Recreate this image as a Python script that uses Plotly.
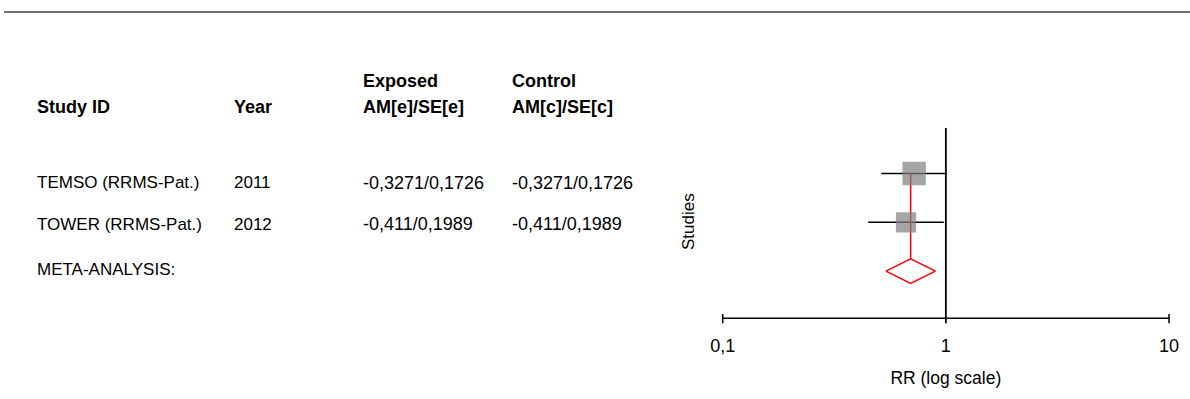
import math
import plotly.graph_objects as go

# Study table
study_ids = ["TEMSO (RRMS-Pat.)", "TOWER (RRMS-Pat.)"]
years = [2011, 2012]
am_e = [-0.3271, -0.411]
se_e = [0.1726, 0.1989]
am_c = [-0.3271, -0.411]
se_c = [0.1726, 0.1989]
meta_label = "META-ANALYSIS:"

# x-axis ticks
tick_vals = [0.1, 1, 10]
tick_text = ["0,1", "1", "10"]

W, H = 1190, 399
FONT = "Liberation Sans"
Z = 1.959964


def fmt(v):
    return str(v).replace(".", ",")


def py(p):
    """pixel row -> paper y"""
    return (H - p) / H


def px(p):
    """pixel column -> paper x"""
    return p / W


# effect sizes and 95% CIs on the RR scale
rr = [math.exp(a) for a in am_e]
lo = [math.exp(a - Z * s) for a, s in zip(am_e, se_e)]
hi = [math.exp(a + Z * s) for a, s in zip(am_e, se_e)]

# fixed-effect (inverse variance) pooling
w = [1 / s ** 2 for s in se_e]
pooled = sum(wi * a for wi, a in zip(w, am_e)) / sum(w)
pooled_se = 1 / math.sqrt(sum(w))
p_rr = math.exp(pooled)
p_lo = math.exp(pooled - Z * pooled_se)
p_hi = math.exp(pooled + Z * pooled_se)

rows = list(range(len(study_ids)))
meta_row = len(study_ids)

fig = go.Figure()

# confidence interval whiskers
for i in rows:
    fig.add_trace(go.Scatter(
        x=[lo[i], hi[i]], y=[i, i], mode="lines",
        line=dict(color="black", width=1.5), hoverinfo="skip", showlegend=False))

# red reference line through the pooled estimate
fig.add_trace(go.Scatter(
    x=[p_rr, p_rr], y=[0, meta_row - 0.25], mode="lines",
    line=dict(color="red", width=1.5), hoverinfo="skip", showlegend=False))

# study squares sized by weight
wmax = max(w)
fig.add_trace(go.Scatter(
    x=rr, y=rows, mode="markers",
    marker=dict(symbol="square", color="#7f7f7f",
                size=[23.3 * math.sqrt(wi / wmax) for wi in w],
                line=dict(width=0)),
    hoverinfo="skip", showlegend=False))

# pooled diamond
fig.add_trace(go.Scatter(
    x=[p_lo, p_rr, p_hi, p_rr, p_lo],
    y=[meta_row, meta_row - 0.25, meta_row, meta_row + 0.25, meta_row],
    mode="lines", fill="toself", fillcolor="white",
    line=dict(color="red", width=1.5), hoverinfo="skip", showlegend=False))

# plot geometry
x0_px, x1_px = 722.7, 1169.0          # pixel positions of 0.1 and 10
dec = (x1_px - x0_px) / 2
pad = 0.05
row0_px, row_step = 173.5, 48.8
top_px, bot_px = 127.7, 330.0
axis_px = 318.3


def yv(p):
    return (p - row0_px) / row_step


axis_y = yv(axis_px)

shapes = [
    # rule across the top
    dict(type="line", xref="paper", yref="paper", x0=px(4), x1=1, y0=py(12), y1=py(12),
         line=dict(color="#404040", width=1.5)),
    # horizontal axis
    dict(type="line", xref="x", yref="y", x0=tick_vals[0], x1=tick_vals[-1],
         y0=axis_y, y1=axis_y, line=dict(color="black", width=1.5)),
    # line of no effect
    dict(type="line", xref="x", yref="y", x0=1, x1=1, y0=yv(top_px), y1=yv(323.3),
         line=dict(color="black", width=1.8)),
]
for t in (tick_vals[0], tick_vals[-1]):
    shapes.append(dict(type="line", xref="x", yref="y", x0=t, x1=t,
                       y0=yv(314), y1=yv(323.3), line=dict(color="black", width=1.5)))

# table text
annotations = []
col_x = [35, 232, 361.5, 510]


def txt(x, y, s, bold=False, size=17):
    annotations.append(dict(
        xref="paper", yref="paper", x=px(x), y=py(y), text=f"<b>{s}</b>" if bold else s,
        showarrow=False, xanchor="left", yanchor="middle",
        font=dict(family=FONT, size=size, color="black")))


txt(col_x[2], 80.7, "Exposed", True, 18)
txt(col_x[3], 80.7, "Control", True, 18)
txt(col_x[0], 107.3, "Study ID", True, 18)
txt(col_x[1], 107.3, "Year", True, 18)
txt(col_x[2], 107.3, "AM[e]/SE[e]", True, 18)
txt(col_x[3], 107.3, "AM[c]/SE[c]", True, 18)

row_text_px = [182.7, 224.3]
for i in rows:
    txt(col_x[0], row_text_px[i], study_ids[i])
    txt(col_x[1], row_text_px[i], str(years[i]))
    txt(col_x[2], row_text_px[i], f"{fmt(am_e[i])}/{fmt(se_e[i])}", size=18)
    txt(col_x[3], row_text_px[i], f"{fmt(am_c[i])}/{fmt(se_c[i])}", size=18)
txt(col_x[0], 269.3, meta_label)

annotations.append(dict(
    xref="paper", yref="paper", x=px(688.3), y=py(221.7), text="Studies",
    textangle=-90, showarrow=False, xanchor="center", yanchor="middle",
    font=dict(family=FONT, size=17, color="black")))

fig.update_layout(
    width=W, height=H, margin=dict(l=0, r=0, t=0, b=0),
    paper_bgcolor="white", plot_bgcolor="white",
    font=dict(family=FONT, size=18, color="black"),
    shapes=shapes, annotations=annotations,
    xaxis=dict(
        type="log", range=[-1 - pad, 1 + pad],
        domain=[px(x0_px - pad * dec), px(x1_px + pad * dec)],
        tickvals=tick_vals, ticktext=tick_text, ticks="",
        showgrid=False, zeroline=False, showline=False,
        ticklabelstandoff=3,
        tickfont=dict(family=FONT, size=18, color="black"),
        title=dict(text="RR (log scale)", standoff=16,
                   font=dict(family=FONT, size=17.5, color="black")),
    ),
    yaxis=dict(
        range=[yv(bot_px), yv(top_px)], domain=[py(bot_px), py(top_px)],
        showticklabels=False, showgrid=False, zeroline=False, showline=False, ticks="",
    ),
)

fig.write_html("out.html")
